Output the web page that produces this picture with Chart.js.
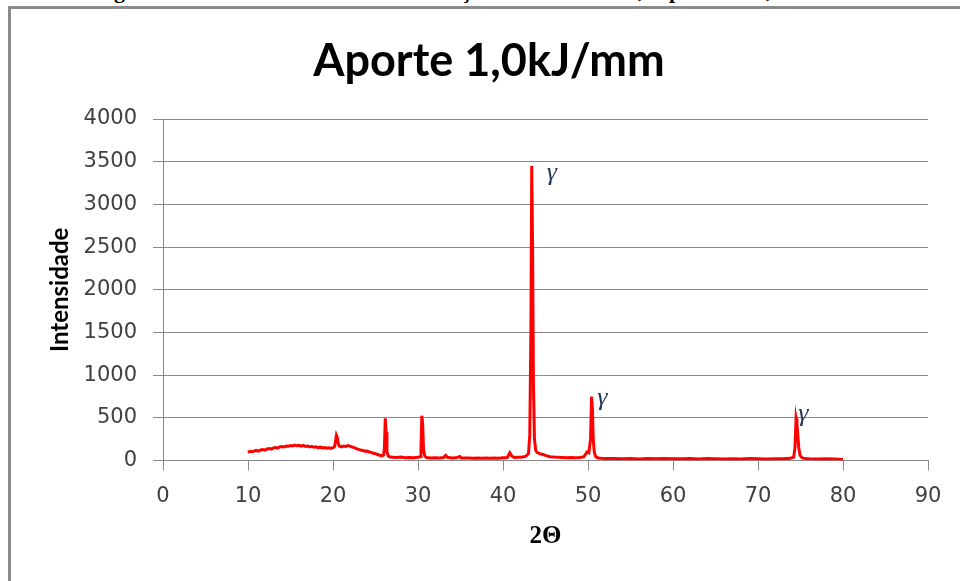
<!DOCTYPE html>
<html>
<head>
<meta charset="utf-8">
<script src="https://cdn.jsdelivr.net/npm/chart.js@4.4.1/dist/chart.umd.min.js"></script>
<style>
  html, body { margin: 0; padding: 0; background: #ffffff; width: 960px; height: 581px; overflow: hidden; }
  #frame { position: absolute; left: 8px; top: 6px; width: 1100px; height: 800px; border-left: 3px solid #8a8a8a; border-top: 3px solid #8a8a8a; }
  .frag { position: absolute; top: -22px; font: bold 22px "Liberation Serif", serif; color: #000; line-height: normal; white-space: pre; }
  #chart { position: absolute; left: 0; top: 0; }
</style>
</head>
<body>
<span class="frag" style="left:114px">g</span>
<span class="frag" style="left:461px">ç</span>
<span class="frag" style="left:638px">,</span>
<span class="frag" style="left:669px">p</span>
<span class="frag" style="left:766px">,</span>
<div id="frame"></div>
<canvas id="chart" width="960" height="581"></canvas>
<script>
// ---- data ----
const chartTitle = "Aporte 1,0kJ/mm";
const xTitle = "2\u0398";
const yTitle = "Intensidade";

const twoTheta = [
  10.0, 10.25, 10.5, 10.75, 11.0, 11.25, 11.5, 11.75, 12.0, 12.25, 12.5, 12.75,
  13.0, 13.25, 13.5, 13.75, 14.0, 14.25, 14.5, 14.75, 15.0, 15.25, 15.5, 15.75,
  16.0, 16.25, 16.5, 16.75, 17.0, 17.25, 17.5, 17.75, 18.0, 18.25, 18.5, 18.75,
  19.0, 19.25, 19.5, 19.75, 20.0, 20.2, 20.3, 20.4, 20.5, 20.6, 20.75,
  21.0, 21.25, 21.5, 21.75, 22.0, 22.25, 22.5, 22.75, 23.0, 23.25, 23.5, 23.75,
  24.0, 24.25, 24.5, 24.75, 25.0, 25.25, 25.5, 25.75, 25.95, 26.05, 26.15, 26.25, 26.35, 26.5, 26.75,
  27.0, 27.5, 28.0, 28.5, 29.0, 29.5, 30.0, 30.25, 30.35, 30.45, 30.55, 30.65, 30.8,
  31.0, 31.5, 32.0, 32.5, 33.0, 33.25, 33.45, 34.0, 34.5, 34.9, 35.1, 35.5,
  36.0, 36.5, 37.0, 37.5, 38.0, 38.5, 39.0, 39.5, 40.0, 40.5, 40.8, 41.0, 41.3, 41.8,
  42.3, 42.7, 43.0, 43.15, 43.28, 43.38, 43.48, 43.58, 43.7, 43.85, 44.0, 44.3, 44.7,
  45.0, 45.5, 46.0, 46.5, 47.0, 47.5, 48.0, 48.5, 49.0, 49.5, 49.9, 50.1, 50.3, 50.42,
  50.52, 50.62, 50.75, 50.9, 51.2, 51.6, 52, 53, 54, 55, 56, 57, 58, 59, 60, 61, 62,
  63, 64, 65, 66, 67, 68, 69, 70, 71, 72, 73, 73.8, 74.2, 74.35, 74.48, 74.58, 74.68,
  74.8, 74.95, 75.2, 75.6, 76, 77, 78, 79, 80
];
const intensity = [
  95, 108, 102, 112, 118, 110, 124, 128, 122, 135, 140, 133,
  148, 152, 145, 160, 163, 158, 170, 166, 175, 170, 180, 172,
  178, 168, 176, 165, 170, 160, 166, 155, 160, 150, 156, 147,
  152, 145, 150, 142, 150, 165, 230, 295, 270, 205, 168,
  160, 170, 165, 175, 168, 158, 150, 138, 130, 122, 118, 110,
  112, 100, 95, 85, 80, 70, 62, 55, 65, 150, 495, 330, 100, 50, 40,
  38, 35, 40, 33, 36, 32, 38, 45, 130, 525, 430, 130, 50,
  35, 30, 33, 28, 35, 60, 38, 30, 32, 48, 30, 28,
  30, 26, 29, 25, 28, 26, 30, 27, 32, 35, 90, 55, 35, 38,
  42, 50, 80, 300, 1500, 3450, 2500, 900, 250, 120, 95, 80, 70,
  60, 45, 40, 38, 35, 33, 35, 32, 35, 42, 100, 90, 250, 748,
  600, 240, 90, 45, 30, 25, 22, 24, 20, 23, 19, 22, 20, 24, 21, 20, 23,
  19, 22, 20, 18, 21, 19, 22, 20, 18, 21, 20, 25, 40, 150, 495, 440, 300,
  150, 60, 30, 22, 20, 18, 21, 18, 12
];

// peak annotations (gamma phase)
const gammaText = ["\u03B3", "\u03B3", "\u03B3"];
const gammaX = [45.75, 51.7, 75.33];
const gammaY = [3288, 654, 458];

// axis ticks
const xMin = 0, xMax = 90, xStep = 10;
const yMin = 0, yMax = 4000, yStep = 500;

const points = twoTheta.map((t, i) => ({ x: t, y: intensity[i] }));

const gammaPlugin = {
  id: 'gammaLabels',
  afterDatasetsDraw(chart) {
    const { ctx, scales } = chart;
    ctx.save();
    ctx.font = 'italic 26px "Liberation Serif", serif';
    ctx.fillStyle = '#263659';
    ctx.textAlign = 'center';
    ctx.textBaseline = 'alphabetic';
    gammaText.forEach((t, i) => {
      ctx.fillText(t, scales.x.getPixelForValue(gammaX[i]), scales.y.getPixelForValue(gammaY[i]));
    });
    ctx.restore();
  }
};

const gridColor = '#8a8a8a';

new Chart(document.getElementById('chart'), {
  type: 'line',
  data: {
    datasets: [{
      data: points,
      borderColor: '#ff0000',
      borderWidth: 3,
      pointRadius: 0,
      tension: 0,
      fill: false
    }]
  },
  options: {
    responsive: false,
    animation: false,
    devicePixelRatio: 1,
    layout: { padding: { left: 50, right: 32, top: 0, bottom: 0 } },
    plugins: {
      legend: { display: false },
      tooltip: { enabled: false },
      title: {
        display: true,
        text: chartTitle,
        color: '#000000',
        font: { family: 'Lato', weight: 'bold', size: 45, lineHeight: 1.2 },
        padding: { top: 34, bottom: 31 }
      }
    },
    scales: {
      x: {
        type: 'linear',
        min: xMin, max: xMax,
        afterFit(s) { s.height = 120.5; },
        ticks: {
          stepSize: xStep,
          color: '#404040',
          padding: 13.6,
          maxRotation: 0,
          callback: v => String(v),
          font: { family: 'DejaVu Sans', size: 21, lineHeight: 1.2 }
        },
        grid: { drawOnChartArea: false, drawTicks: true, tickLength: 10, color: gridColor, lineWidth: 1 },
        border: { display: true, color: gridColor, width: 1 },
        title: {
          display: true,
          text: xTitle,
          color: '#000000',
          font: { family: 'Liberation Serif', weight: 'bold', size: 25, lineHeight: 1.2 },
          padding: { top: 0, bottom: 29.2 }
        }
      },
      y: {
        type: 'linear',
        min: yMin, max: yMax,
        afterFit(s) { s.width = 113; },
        ticks: {
          stepSize: yStep,
          color: '#404040',
          padding: 16,
          callback: v => String(v),
          font: { family: 'DejaVu Sans', size: 21, lineHeight: 1.2 }
        },
        grid: { drawOnChartArea: true, drawTicks: true, tickLength: 10, color: gridColor, lineWidth: 1 },
        border: { display: true, color: gridColor, width: 1 },
        title: {
          display: true,
          text: yTitle,
          color: '#000000',
          font: { family: 'Lato', weight: 'bold', size: 24, lineHeight: 1.2 },
          padding: { top: -4.5, bottom: 0 }
        }
      }
    }
  },
  plugins: [gammaPlugin]
});
</script>
</body>
</html>
